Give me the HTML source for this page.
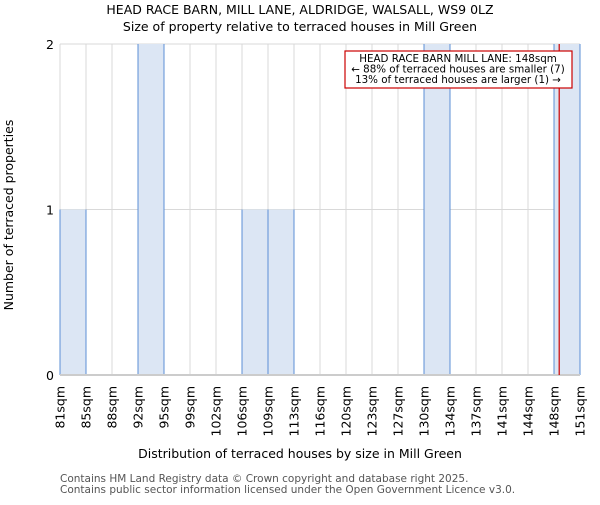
<!DOCTYPE html>
<html><head><meta charset="utf-8"><style>
body{margin:0;background:#fff;font-family:"Liberation Sans","DejaVu Sans",sans-serif}
</style></head><body>
<svg id="c" width="600" height="500" xmlns="http://www.w3.org/2000/svg" font-family="DejaVu Sans, Liberation Sans, sans-serif">
<text x="300" y="14" text-anchor="middle" font-size="12.5">HEAD RACE BARN, MILL LANE, ALDRIDGE, WALSALL, WS9 0LZ</text>
<text x="300" y="31" text-anchor="middle" font-size="12.5">Size of property relative to terraced houses in Mill Green</text>
<g id="grid"></g><g id="bars"></g><g id="axes"></g>
<text x="300" y="458" text-anchor="middle" font-size="12.5">Distribution of terraced houses by size in Mill Green</text>
<text transform="translate(13,215) rotate(-90)" text-anchor="middle" font-size="12.5">Number of terraced properties</text>
<text x="60" y="482" font-size="10.5" fill="#555">Contains HM Land Registry data © Crown copyright and database right 2025.</text>
<text x="60" y="493" font-size="10.5" fill="#555">Contains public sector information licensed under the Open Government Licence v3.0.</text>
</svg>
<script>
const labels=["81sqm","85sqm","88sqm","92sqm","95sqm","99sqm","102sqm","106sqm","109sqm","113sqm","116sqm","120sqm","123sqm","127sqm","130sqm","134sqm","137sqm","141sqm","144sqm","148sqm","151sqm"];
const counts=[1,0,0,2,0,0,0,1,1,0,0,0,0,0,2,0,0,0,0,2];
const yTicks=[0,1,2];
const propertyBin=19.2;
const ns="http://www.w3.org/2000/svg";
const X0=60,X1=580,Y0=375,Y1=44,YMAX=2;
const xs=i=>X0+i*(X1-X0)/counts.length;
const ys=v=>Y0-v*(Y0-Y1)/YMAX;
function mk(p,t,a){const e=document.createElementNS(ns,t);for(const k in a)e.setAttribute(k,a[k]);document.getElementById(p).appendChild(e);return e;}
for(let i=0;i<=counts.length;i++){const g=mk('grid','line',{x1:xs(i),x2:xs(i),y1:Y1,y2:Y0,stroke:'#d9d9d9'});

}
yTicks.forEach(v=>{const g=mk('grid','line',{x1:X0,x2:X1,y1:ys(v),y2:ys(v),stroke:'#d9d9d9'});


const t=mk('axes','text',{x:X0-6,y:ys(v)+5,'text-anchor':'end','font-size':'12.5'});t.textContent=v;

});
counts.forEach((c,i)=>{if(!c)return;const b=mk('bars','rect',{x:xs(i),y:ys(c),width:xs(i+1)-xs(i),height:Y0-ys(c),fill:'#dce6f4'});


[i,i+1].forEach(k=>{const e=mk('bars','line',{x1:xs(k),x2:xs(k),y1:ys(c),y2:Y0,stroke:'#5b8fd6','stroke-width':1});

});});
labels.forEach((l,i)=>{const t=mk('axes','text',{transform:`translate(${xs(i)+4.5},386) rotate(-90)`,'text-anchor':'end','font-size':'12.5'});t.textContent=l;

});
const ax=mk('axes','line',{x1:X0,x2:X1,y1:Y0,y2:Y0,stroke:'#ccc','stroke-width':2});


const rl=mk('axes','line',{x1:xs(propertyBin),x2:xs(propertyBin),y1:Y1,y2:Y0,stroke:'#cc0000','stroke-width':1.2});


const bx=mk('axes','rect',{x:345,y:51,width:227,height:37,fill:'#fff',stroke:'#cc0000','stroke-width':1.2});


["HEAD RACE BARN MILL LANE: 148sqm","← 88% of terraced houses are smaller (7)","13% of terraced houses are larger (1) →"].forEach((s,i)=>{const t=mk('axes','text',{x:458,y:62+i*10.5,'text-anchor':'middle','font-size':'10.3'});t.textContent=s;

});
</script>
</body></html>
